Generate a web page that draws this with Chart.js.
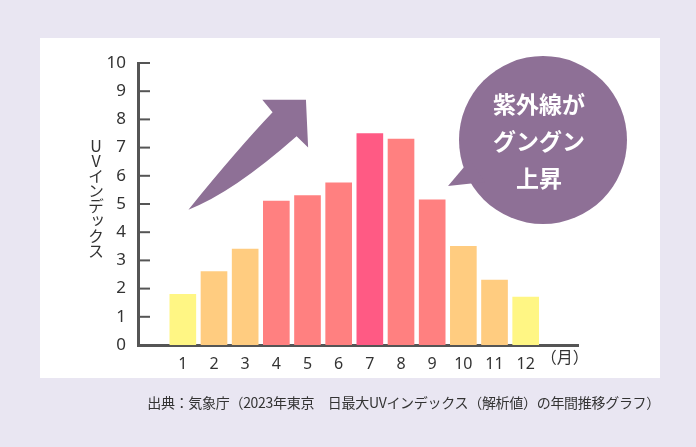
<!DOCTYPE html>
<html><head><meta charset="utf-8">
<script src="https://cdn.jsdelivr.net/npm/chart.js@4"></script>
<style>
html,body{margin:0;padding:0;background:#e9e6f2;}
#wrap{position:relative;width:696px;height:447px;overflow:hidden;font-family:"Noto Sans CJK JP","Noto Sans",sans-serif;}
#panel{position:absolute;left:40px;top:38px;width:620px;height:340px;background:#fff;}
#c{position:absolute;left:0;top:0;}
#ytitle{position:absolute;left:84px;top:138px;writing-mode:vertical-rl;text-orientation:upright;font-size:16px;color:#333;letter-spacing:-1px;}
#src{position:absolute;right:36px;top:392px;font-size:14px;color:#333;letter-spacing:-0.3px;}
</style></head>
<body><div id="wrap">
<div id="panel"></div>
<canvas id="c" width="696" height="447"></canvas>
<div id="ytitle">UVインデックス</div>
<div id="src">出典：気象庁（2023年東京　日最大UVインデックス（解析値）の年間推移グラフ）</div>
</div>
<script>
const months = [1,2,3,4,5,6,7,8,9,10,11,12];
const uvValues = [1.8,2.6,3.4,5.1,5.3,5.75,7.5,7.3,5.15,3.5,2.3,1.7];
const barColors = ["#fff684","#ffcc80","#ffcc80","#ff8080","#ff8080","#ff8080","#ff5a84","#ff8080","#ff8080","#ffcc80","#ffcc80","#fff684"];
const yTicks = [0,1,2,3,4,5,6,7,8,9,10];
const bubbleLines = ["紫外線が","グングン","上昇"];
const unitLabel = "（月）";

const deco = {
  id:"deco",
  afterDatasetsDraw(chart){
    const {ctx, scales:{x,y}} = chart;
    ctx.save();
    // y tick marks, inside
    ctx.strokeStyle="#555"; ctx.lineWidth=2;
    yTicks.forEach(v=>{ctx.beginPath();ctx.moveTo(x.left,y.getPixelForValue(v));ctx.lineTo(x.left+12,y.getPixelForValue(v));ctx.stroke();});
    // unit label
    ctx.fillStyle="#333"; ctx.font="16px 'Noto Sans CJK JP'"; ctx.textAlign="center"; ctx.textBaseline="top";
    ctx.fillText(unitLabel, x.getPixelForValue(13.25), y.bottom+4);
    // arrow
    const P=(a,b)=>[x.getPixelForValue(a),y.getPixelForValue(b)];
    ctx.fillStyle="#8e7096";
    ctx.beginPath();
    let p=P(1.18,4.8); ctx.moveTo(p[0],p[1]);
    let c1=P(2.6,5.4), e=P(4.65,7.4); ctx.quadraticCurveTo(c1[0],c1[1],e[0],e[1]);
    p=P(5.02,7.0); ctx.lineTo(p[0],p[1]);
    p=P(4.95,8.7); ctx.lineTo(p[0],p[1]);
    p=P(3.55,8.7); ctx.lineTo(p[0],p[1]);
    p=P(3.88,8.25); ctx.lineTo(p[0],p[1]);
    c1=P(2.8,7.0); e=P(1.18,4.8); ctx.quadraticCurveTo(c1[0],c1[1],e[0],e[1]);
    ctx.fill();
    // bubble
    const cx=543, cy=140, r=84;
    ctx.beginPath();
    ctx.arc(cx,cy,r,0,Math.PI*2);
    ctx.fill();
    ctx.beginPath();
    ctx.moveTo(470,160); ctx.lineTo(448,186); ctx.lineTo(485,182); ctx.fill();
    ctx.fillStyle="#fff"; ctx.textAlign="center"; ctx.textBaseline="middle";
    ctx.font="bold 23px 'Noto Sans CJK JP'";
    bubbleLines.forEach((t,i)=>ctx.fillText(t,cx-4,104+i*37));
    ctx.restore();
  }
};

new Chart(document.getElementById("c"),{
  type:"bar",
  data:{datasets:[{data:months.map((m,i)=>({x:m,y:uvValues[i]})),backgroundColor:barColors,barThickness:26}]},
  options:{
    responsive:false,animation:false,
    layout:{padding:{left:88,right:118,top:63,bottom:72}},
    plugins:{legend:{display:false},tooltip:{enabled:false}},
    scales:{
      x:{type:"linear",min:0.15,max:13.09,
        afterBuildTicks:s=>{s.ticks=months.map(v=>({value:v}));},
        afterFit:s=>{s.height=30;},
        ticks:{color:"#333",font:{size:16,family:"Noto Sans"},padding:2,maxRotation:0,autoSkip:false},
        grid:{display:false},border:{color:"#555",width:3}},
      y:{min:0,max:10,
        afterBuildTicks:s=>{s.ticks=yTicks.map(v=>({value:v}));},
        afterFit:s=>{s.width=50;},
        ticks:{color:"#333",font:{size:17,family:"Noto Sans"},padding:4},
        grid:{display:false},border:{color:"#555",width:3}}
    }
  },
  plugins:[deco]
});
</script></body></html>
